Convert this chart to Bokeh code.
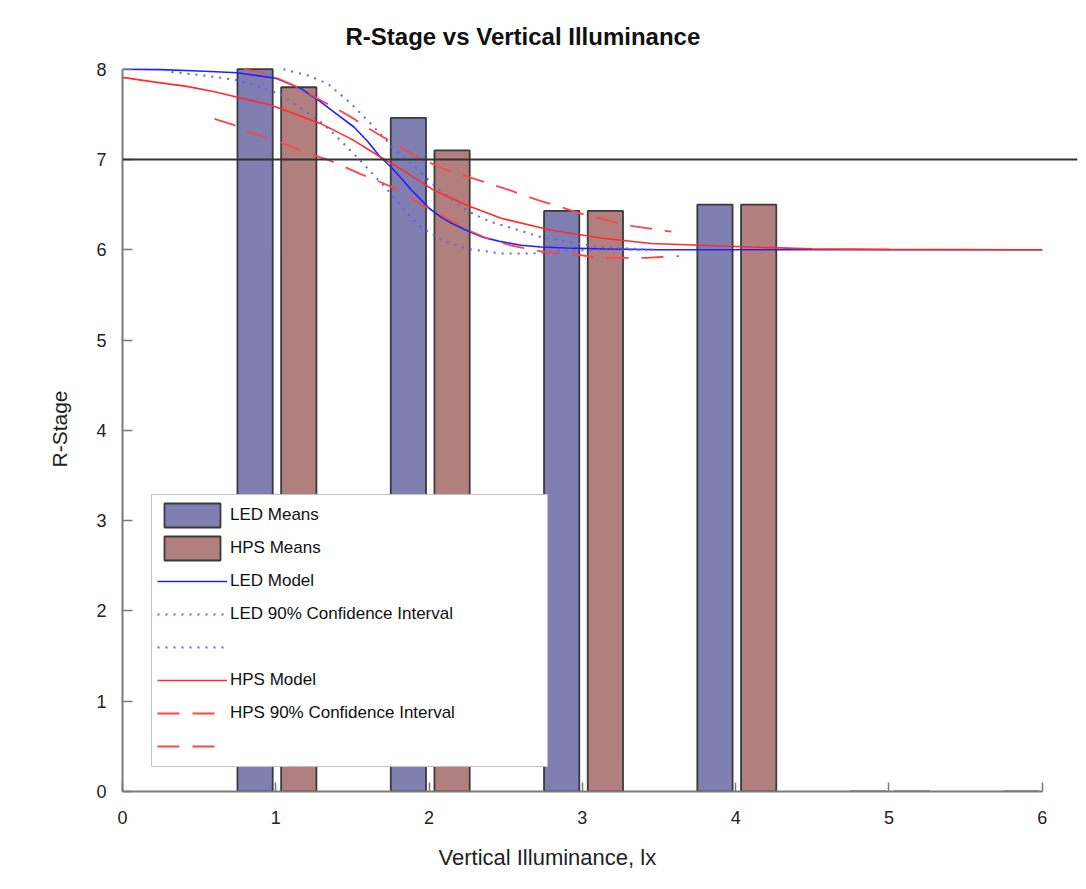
from bokeh.plotting import figure
from bokeh.models import (ColumnDataSource, Range1d, Span, Legend, LegendItem,
                          Title, FixedTicker)
from bokeh.transform import dodge
from bokeh.embed import file_html
from bokeh.resources import INLINE

# ---------------- data ----------------
illuminance = [1, 2, 3, 4, 5, 6]
led_means = [8.00, 7.46, 6.43, 6.50, 0.0, 0.0]
hps_means = [7.80, 7.10, 6.43, 6.50, 0.0, float("nan")]

led_model_x = [0.0, 0.25, 0.5, 0.75, 1.0, 1.16, 1.29, 1.4, 1.51, 1.6, 1.68, 1.75, 1.82,
               1.88, 1.95, 2.0, 2.08, 2.15, 2.25, 2.35, 2.47, 2.6, 2.73, 2.9, 3.12,
               3.5, 4.0, 5.0, 6.0]
led_model_y = [8.00, 7.995, 7.98, 7.96, 7.90, 7.79, 7.64, 7.50, 7.36, 7.20, 7.03, 6.92,
               6.79, 6.67, 6.55, 6.46, 6.36, 6.29, 6.21, 6.14, 6.09, 6.05, 6.03, 6.02,
               6.01, 6.0, 6.0, 6.0, 6.0]

led_ci_upper_x = [1.05, 1.21, 1.34, 1.49, 1.64, 1.77, 1.83, 1.90, 1.96, 2.03, 2.14, 2.25,
                  2.40, 2.58, 2.73, 2.90, 3.12, 3.47]
led_ci_upper_y = [8.0, 7.93, 7.84, 7.62, 7.36, 7.12, 7.03, 6.93, 6.83, 6.72, 6.56, 6.43,
                  6.31, 6.22, 6.14, 6.09, 6.03, 6.0]

led_ci_lower_x = [0.32, 0.53, 0.75, 0.92, 1.03, 1.17, 1.29, 1.40, 1.55, 1.73, 1.82, 1.88,
                  1.95, 2.08, 2.25, 2.47, 2.68, 2.90, 3.12, 3.47]
led_ci_lower_y = [7.97, 7.93, 7.88, 7.79, 7.72, 7.56, 7.42, 7.25, 6.99, 6.66, 6.48, 6.36,
                  6.25, 6.11, 6.01, 5.96, 5.96, 5.99, 6.0, 6.0]

hps_model_x = [0.0, 0.2, 0.42, 0.6, 0.75, 0.97, 1.13, 1.29, 1.5, 1.68, 1.82, 2.03, 2.25,
               2.47, 2.79, 3.12, 3.45, 3.77, 4.1, 4.5, 5.0, 6.0]
hps_model_y = [7.91, 7.86, 7.81, 7.75, 7.69, 7.60, 7.50, 7.40, 7.22, 7.03, 6.89, 6.66,
               6.49, 6.35, 6.22, 6.13, 6.07, 6.05, 6.03, 6.01, 6.005, 6.0]

hps_ci_upper_x = [0.79, 0.92, 1.01, 1.12, 1.2, 1.31, 1.4, 1.51, 1.59, 1.7, 1.77, 1.89,
                  1.97, 2.09, 2.17, 2.27, 2.38, 2.51, 2.59, 2.71, 2.81, 2.92, 3.03, 3.14,
                  3.24, 3.34, 3.46, 3.58]
hps_ci_upper_y = [8.0, 7.96, 7.9, 7.82, 7.75, 7.64, 7.56, 7.45, 7.36, 7.25, 7.18, 7.06,
                  6.99, 6.9, 6.85, 6.8, 6.74, 6.67, 6.62, 6.55, 6.5, 6.44, 6.38, 6.34,
                  6.29, 6.26, 6.23, 6.2]

hps_ci_lower_x = [0.6, 0.73, 0.8, 0.93, 1.01, 1.14, 1.21, 1.35, 1.42, 1.55, 1.64, 1.75,
                  1.83, 1.93, 2.05, 2.25, 2.4, 2.53, 2.64, 2.77, 2.86, 2.99, 3.07, 3.2,
                  3.29, 3.42, 3.51, 3.63]
hps_ci_lower_y = [7.45, 7.38, 7.32, 7.25, 7.2, 7.12, 7.07, 6.99, 6.94, 6.84, 6.78, 6.7,
                  6.63, 6.52, 6.41, 6.22, 6.11, 6.05, 6.01, 5.97, 5.96, 5.94, 5.92, 5.91,
                  5.91, 5.91, 5.92, 5.93]

x_ticks = [0, 1, 2, 3, 4, 5, 6]
y_ticks = [0, 1, 2, 3, 4, 5, 6, 7, 8]
threshold = 7

# ---------------- styling ----------------
FONT = "Liberation Sans"
LED_FILL = "#7f7fb2"
HPS_FILL = "#b27f7f"
BAR_LINE = "#3a3a3a"
BLUE = "#2020ff"
BLUE_DOT = "#6060ff"
RED = "#ff2a2a"
RED_DASH = "#ff4545"

p = figure(width=1078, height=889,
           x_range=Range1d(0, 6.23), y_range=Range1d(0, 8.03),
           output_backend="svg", toolbar_location=None,
           min_border_left=122, min_border_right=1,
           min_border_top=66, min_border_bottom=98)
p.outline_line_color = None
p.xgrid.visible = False
p.ygrid.visible = False
p.background_fill_color = "white"
p.border_fill_color = "white"

src = ColumnDataSource(dict(x=illuminance, led=led_means, hps=hps_means))
r_led = p.vbar(x=dodge("x", -0.135, range=p.x_range), top="led", bottom=0, width=0.23,
               source=src, fill_color=LED_FILL, line_color=BAR_LINE, line_width=1.8)
r_hps = p.vbar(x=dodge("x", 0.15, range=p.x_range), top="hps", bottom=0, width=0.23,
               source=src, fill_color=HPS_FILL, line_color=BAR_LINE, line_width=1.8)

r_led_m = p.line(led_model_x, led_model_y, line_color=BLUE, line_width=1.6)
r_led_u = p.line(led_ci_upper_x, led_ci_upper_y, line_color=BLUE_DOT, line_width=2,
                 line_dash="2 6")
r_led_l = p.line(led_ci_lower_x, led_ci_lower_y, line_color=BLUE_DOT, line_width=2,
                 line_dash="2 6")
r_hps_m = p.line(hps_model_x, hps_model_y, line_color=RED, line_width=1.6)
r_hps_u = p.line(hps_ci_upper_x, hps_ci_upper_y, line_color=RED_DASH, line_width=1.8,
                 line_dash="22 13")
r_hps_l = p.line(hps_ci_lower_x, hps_ci_lower_y, line_color=RED_DASH, line_width=1.8,
                 line_dash="22 13")

p.add_layout(Span(location=threshold, dimension="width", line_color="#333333",
                  line_width=2))

# axes
for ax in (p.xaxis[0], p.yaxis[0]):
    ax.axis_line_color = "#7a7a7a"
    ax.axis_line_width = 2
    ax.major_tick_line_color = "#7a7a7a"
    ax.major_tick_line_width = 1.5
    ax.major_tick_out = 0
    ax.minor_tick_line_color = None
    ax.major_label_text_font = FONT
    ax.major_label_text_font_size = "18px"
    ax.major_label_text_color = "#222222"

p.xaxis.ticker = FixedTicker(ticks=x_ticks)
p.xaxis.bounds = (0, 6)
p.xaxis.major_tick_in = 9
p.xaxis.major_label_standoff = 19

p.yaxis.ticker = FixedTicker(ticks=y_ticks)
p.yaxis.bounds = (0, 8)
p.yaxis.major_tick_in = 10
p.yaxis.major_label_standoff = 16
p.yaxis.axis_label = "R-Stage"
p.yaxis.axis_label_text_font = FONT
p.yaxis.axis_label_text_font_size = "21px"
p.yaxis.axis_label_text_font_style = "normal"
p.yaxis.axis_label_text_color = "#222222"
p.yaxis.axis_label_standoff = 22

# x-axis title (placed as a below title so it can sit left of frame centre)
x_title = Title(text="Vertical Illuminance, lx", align="left", offset=316,
                vertical_align="bottom", standoff=33,
                text_font=FONT, text_font_size="22px", text_font_style="normal",
                text_color="#222222")
p.add_layout(x_title, "below")

# title
p.title.text = "R-Stage vs Vertical Illuminance"
p.title.align = "left"
p.title.offset = 223
p.title.text_font = FONT
p.title.text_font_size = "24px"
p.title.text_font_style = "bold"
p.title.text_color = "#111111"
p.title.standoff = 34

legend = Legend(items=[
    LegendItem(label="LED Means", renderers=[r_led], index=0),
    LegendItem(label="HPS Means", renderers=[r_hps], index=0),
    LegendItem(label="LED Model", renderers=[r_led_m]),
    LegendItem(label="LED 90% Confidence Interval", renderers=[r_led_u]),
    LegendItem(label=" ", renderers=[r_led_l]),
    LegendItem(label="HPS Model", renderers=[r_hps_m]),
    LegendItem(label="HPS 90% Confidence Interval", renderers=[r_hps_u]),
    LegendItem(label=" ", renderers=[r_hps_l]),
], location=(29, 24))
legend.glyph_width = 70
legend.glyph_height = 30
legend.spacing = 3
legend.padding = 5
legend.margin = 0
legend.label_standoff = 3
legend.label_width = 312
legend.label_text_font = FONT
legend.label_text_font_size = "17px"
legend.label_text_color = "#111111"
legend.border_line_color = "#858585"
legend.border_line_width = 1.5
legend.background_fill_color = "white"
legend.background_fill_alpha = 1.0
p.add_layout(legend)

open("out.html", "w").write(file_html(p, INLINE))
